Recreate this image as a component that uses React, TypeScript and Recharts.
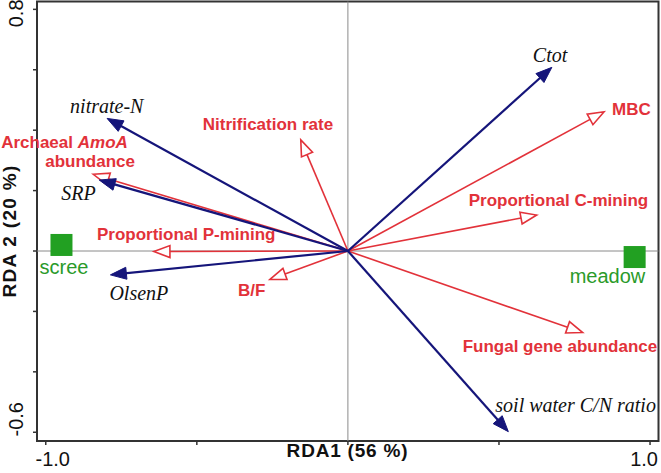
import React from 'react'
import {
    ScatterChart,
    Scatter,
    XAxis,
    YAxis,
    ReferenceLine,
    ReferenceArea
} from 'recharts'

// explanatory variables (blue, filled heads)
const envNames = ['Ctot', 'nitrate-N', 'SRP', 'OlsenP', 'soil water C/N ratio']
const envRda1 = [0.675, -0.797, -0.823, -0.786, 0.531]
const envRda2 = [0.608, 0.439, 0.235, -0.079, -0.598]

// response variables (red, open heads)
const respNames = [
    'Nitrification rate',
    'MBC',
    'Proportional C-mining',
    'Fungal gene abundance',
    'Proportional P-mining',
    'Archaeal AmoA abundance',
    'B/F'
]
const respRda1 = [-0.156, 0.848, 0.625, 0.777, -0.642, -0.843, -0.258]
const respRda2 = [0.368, 0.461, 0.119, -0.27, -0.002, 0.254, -0.094]

// sites
const siteNames = ['scree', 'meadow']
const siteRda1 = [-0.948, 0.949]
const siteRda2 = [0.02, -0.02]

const xTicks = [-1, -0.5, 0, 0.5, 1]
const yTicks = [-0.6, -0.4, -0.2, 0, 0.2, 0.4, 0.6, 0.8]
const xDomain = [-1.029, 1.028]
const yDomain = [-0.629, 0.826]

// label offsets from the arrow tip, in px
const envLabelOffset = [[-19, -5], [-37, -5], [-38, 20], [-1, 25], [-13, -20]]
const respLabelOffset = [[-98, -10], [8, 3], [-68, -9], [-120, 19], [-57, -12], [-92, -26], [-32, 17]]

const RED = '#e2323a'
const BLUE = '#15157a'
const GREEN = '#22a022'
const SANS = '"Liberation Sans", Arial, sans-serif'
const SERIF = '"Liberation Serif", "Times New Roman", serif'

const siteData = siteNames.map((n, i) => ({ name: n, x: siteRda1[i], y: siteRda2[i] }))

const makeArrow = (open: boolean, name: string, off: number[]) => (p: any) => {
    const { x1, y1, x2, y2 } = p
    const ang = Math.atan2(y2 - y1, x2 - x1)
    const L = 16
    const W = 6
    const bx = x2 - L * Math.cos(ang)
    const by = y2 - L * Math.sin(ang)
    const nx = -Math.sin(ang) * W
    const ny = Math.cos(ang) * W
    const head = `${x2},${y2} ${bx + nx},${by + ny} ${bx - nx},${by - ny}`
    const color = open ? RED : BLUE
    let label
    if (open) {
        if (name === 'Archaeal AmoA abundance') {
            label = (
                <g fill={RED} fontFamily={SANS} fontWeight="bold" fontSize={17}>
                    <text x={x2 + off[0]} y={y2 + off[1]}>
                        Archaeal <tspan fontStyle="italic">AmoA</tspan>
                    </text>
                    <text x={x2 - 48} y={y2 - 7}>abundance</text>
                </g>
            )
        } else {
            label = (
                <text x={x2 + off[0]} y={y2 + off[1]} fill={RED} fontFamily={SANS}
                    fontWeight="bold" fontSize={17}>{name}</text>
            )
        }
    } else {
        label = (
            <text x={x2 + off[0]} y={y2 + off[1]} fill="#111" fontFamily={SERIF}
                fontStyle="italic" fontSize={20}>{name}</text>
        )
    }
    return (
        <g>
            <line x1={x1} y1={y1} x2={open ? bx : x2 - 4 * Math.cos(ang)} y2={open ? by : y2 - 4 * Math.sin(ang)}
                stroke={color} strokeWidth={open ? 1.6 : 2.2} />
            <polygon points={head} fill={open ? '#fff' : BLUE} stroke={color}
                strokeWidth={open ? 1.6 : 1} strokeLinejoin="miter" />
            {label}
        </g>
    )
}

const siteShape = (p: any) => {
    const { cx, cy, payload } = p
    const left = payload.name === 'scree'
    return (
        <g>
            <rect x={cx - 11} y={cy - 11} width={22} height={22} fill={GREEN} />
            <text x={cx + (left ? -22 : -65)} y={cy + (left ? 29 : 26)} fill="#2a9a2a"
                fontFamily={SANS} fontSize={20}>{payload.name}</text>
        </g>
    )
}

const XTick = (p: any) => {
    const { x, payload } = p
    if (Math.abs(payload.value) !== 1) return <g />
    return (
        <text x={x + (payload.value < 0 ? 7 : -6)} y={466} textAnchor="middle"
            fontFamily={SANS} fontSize={20} fill="#111">
            {payload.value.toFixed(1)}
        </text>
    )
}

const YTick = (p: any) => {
    const { y, payload } = p
    const v = payload.value
    if (v !== 0.8 && v !== -0.6) return <g />
    const cy = v > 0 ? y + 4 : y - 13
    return (
        <text x={23} y={cy} transform={`rotate(-90, 23, ${cy})`} textAnchor="middle"
            fontFamily={SANS} fontSize={20} fill="#111">
            {v.toFixed(1)}
        </text>
    )
}

const App = () => {
    return (
        <div>
            <style>{'body{margin:0}'}</style>
            <ScatterChart width={661} height={473}
                margin={{ top: 1.5, right: 2.5, left: 0, bottom: 0 }}>
                <XAxis type="number" dataKey="x" domain={xDomain} ticks={xTicks}
                    allowDataOverflow axisLine={false} tickSize={4}
                    tickLine={{ stroke: '#333', strokeWidth: 1.5 }} height={32}
                    tick={<XTick />} interval={0}
                    label={{
                        content: () => (
                            <text x={347.5} y={457} textAnchor="middle" fontFamily={SANS}
                                fontWeight="bold" fontSize={19} letterSpacing={0.8} fill="#111">
                                RDA1 (56 %)
                            </text>
                        )
                    }} />
                <YAxis type="number" dataKey="y" domain={yDomain} ticks={yTicks}
                    allowDataOverflow axisLine={false} tickSize={4}
                    tickLine={{ stroke: '#333', strokeWidth: 1.5 }} width={37}
                    tick={<YTick />} interval={0}
                    label={{
                        content: () => (
                            <text x={16} y={231} transform="rotate(-90, 16, 231)" textAnchor="middle"
                                fontFamily={SANS} fontWeight="bold" fontSize={19} letterSpacing={1.3} fill="#111">
                                RDA 2 (20 %)
                            </text>
                        )
                    }} />
                <ReferenceArea x1={xDomain[0]} x2={xDomain[1]} y1={yDomain[0]} y2={yDomain[1]}
                    fill="none" stroke="#333" strokeWidth={2} ifOverflow="extendDomain" />
                <ReferenceLine x={0} stroke="#8a8a8a" strokeWidth={1} />
                <ReferenceLine y={0} stroke="#8a8a8a" strokeWidth={1} />
                {respNames.map((n, i) => (
                    <ReferenceLine key={n}
                        segment={[{ x: 0, y: 0 }, { x: respRda1[i], y: respRda2[i] }]}
                        shape={makeArrow(true, n, respLabelOffset[i])} />
                ))}
                {envNames.map((n, i) => (
                    <ReferenceLine key={n}
                        segment={[{ x: 0, y: 0 }, { x: envRda1[i], y: envRda2[i] }]}
                        shape={makeArrow(false, n, envLabelOffset[i])} />
                ))}
                <Scatter data={siteData} shape={siteShape} isAnimationActive={false} />
            </ScatterChart>
        </div>
    )
}

export default App
